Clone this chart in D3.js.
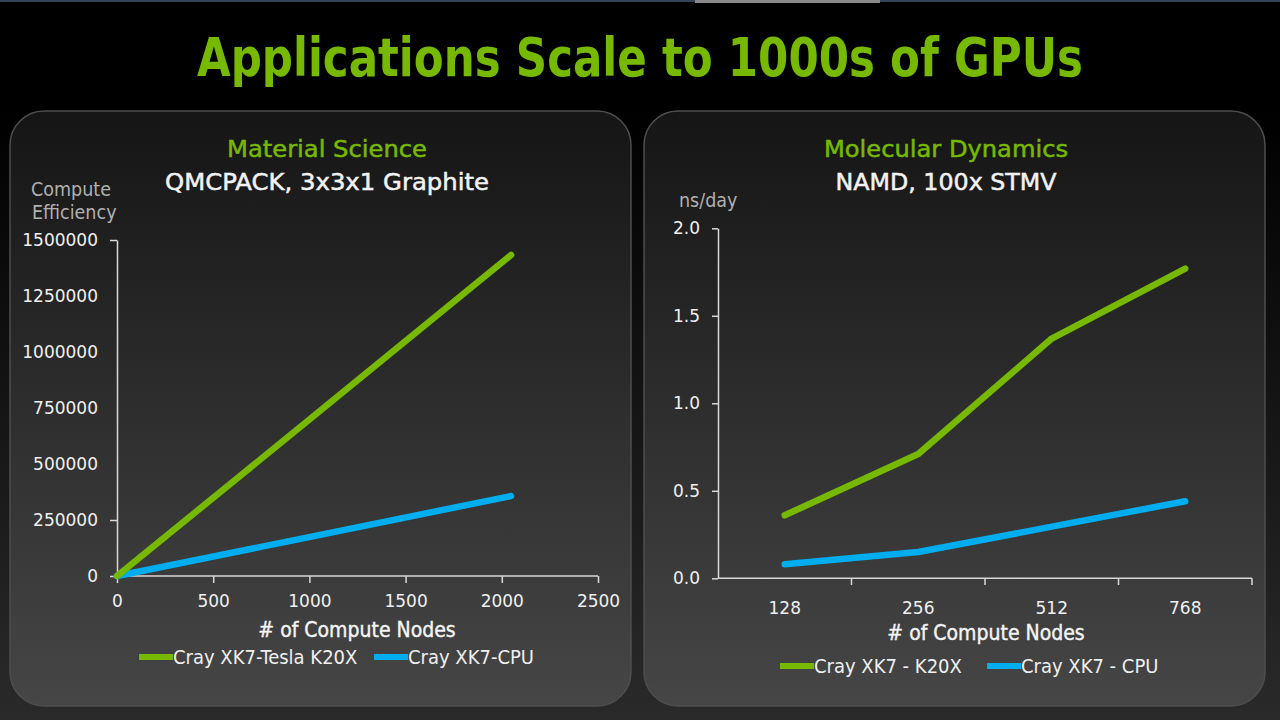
<!DOCTYPE html>
<html><head><meta charset="utf-8">
<script src="https://cdn.jsdelivr.net/npm/d3@7"></script>
<style>
html,body{margin:0;padding:0;background:#000;overflow:hidden}
svg{display:block}
text{font-family:"DejaVu Sans Condensed","Liberation Sans Narrow","DejaVu Sans",sans-serif}
.wide{font-family:"DejaVu Sans",sans-serif}
</style></head>
<body><svg id="c" width="1280" height="720"></svg>
<script>
// ---- Data ----
const title = "Applications Scale to 1000s of GPUs";

// Left chart: Material Science / QMCPACK
const leftNodes = [0, 1024, 2048];
const leftGPU = [0, 715000, 1433000];
const leftCPU = [0, 178000, 357000];
const leftYTicks = [0, 250000, 500000, 750000, 1000000, 1250000, 1500000];
const leftXTicks = [0, 500, 1000, 1500, 2000, 2500];
const leftSeriesNames = ["Cray XK7-Tesla K20X", "Cray XK7-CPU"];

// Right chart: Molecular Dynamics / NAMD
const rightNodes = ["128", "256", "512", "768"];
const rightGPU = [0.36, 0.71, 1.37, 1.77];
const rightCPU = [0.08, 0.15, 0.295, 0.44];
const rightYTicks = [0.0, 0.5, 1.0, 1.5, 2.0];
const rightSeriesNames = ["Cray XK7 - K20X", "Cray XK7 - CPU"];

const GREEN = "#76b900", BLUE = "#00aeef";

const svg = d3.select("#c");
const defs = svg.append("defs");
const bg = defs.append("linearGradient").attr("id","bg").attr("x1",0).attr("y1",0).attr("x2",0).attr("y2",1);
bg.append("stop").attr("offset","0%").attr("stop-color","#000");
bg.append("stop").attr("offset","15%").attr("stop-color","#000");
bg.append("stop").attr("offset","100%").attr("stop-color","#2a2a2a");
const pg = defs.append("linearGradient").attr("id","pg").attr("x1",0).attr("y1",0).attr("x2",0).attr("y2",1);
pg.append("stop").attr("offset","0%").attr("stop-color","#151515");
pg.append("stop").attr("offset","100%").attr("stop-color","#464646");

svg.append("rect").attr("width",1280).attr("height",720).attr("fill","url(#bg)");
// top stripe
svg.append("rect").attr("x",0).attr("y",0).attr("width",1280).attr("height",2).attr("fill","#34435a");
svg.append("rect").attr("x",695).attr("y",0).attr("width",185).attr("height",3).attr("fill","#8a8a8a");

svg.append("text").attr("x",640).attr("y",76).attr("text-anchor","middle")
  .attr("fill","#76b900").attr("font-size",54).attr("font-weight","bold")
  .attr("textLength",886).attr("lengthAdjust","spacingAndGlyphs").text(title);

function panel(x0, x1){
  svg.append("rect").attr("x",x0).attr("y",111).attr("width",x1-x0).attr("height",595)
    .attr("rx",34).attr("ry",34).attr("fill","url(#pg)").attr("stroke","#4e4e4e").attr("stroke-width",1.5);
}
panel(10, 631);
panel(644, 1265);

function headers(cx, g, gw, w, ww){
  svg.append("text").attr("class","wide").attr("x",cx).attr("y",157).attr("text-anchor","middle").attr("fill","#76b900").attr("font-size",23)
    .attr("stroke","#76b900").attr("stroke-width",0.5)
    .attr("textLength",gw).attr("lengthAdjust","spacingAndGlyphs").text(g);
  svg.append("text").attr("class","wide").attr("x",cx).attr("y",190).attr("text-anchor","middle").attr("fill","#f2f2f2").attr("font-size",23)
    .attr("stroke","#f2f2f2").attr("stroke-width",0.5)
    .attr("textLength",ww).attr("lengthAdjust","spacingAndGlyphs").text(w);
}
headers(327, "Material Science", 200, "QMCPACK, 3x3x1 Graphite", 324);
headers(946, "Molecular Dynamics", 244, "NAMD, 100x STMV", 221);

function styleAxis(g){
  g.select(".domain").attr("stroke","#d8d8d8").attr("stroke-width",1.5);
  g.selectAll(".tick line").attr("stroke","#d8d8d8").attr("stroke-width",1.5);
  g.selectAll(".tick text").attr("class","wide").attr("fill","#f0f0f0").attr("font-size",17);
}

// ---- Left chart ----
const lx = d3.scaleLinear().domain([0,2500]).range([117,598]);
const ly = d3.scaleLinear().domain([0,1500000]).range([576,240]);
const gly = svg.append("g").attr("transform","translate(117,0)")
  .call(d3.axisLeft(ly).tickValues(leftYTicks).tickFormat(d3.format("d")).tickSize(7).tickPadding(12).tickSizeOuter(0));
styleAxis(gly);
gly.selectAll(".tick line").attr("display", d => (d===0||d===250000||d===1500000) ? null : "none");
const glx = svg.append("g").attr("transform","translate(0,576)")
  .call(d3.axisBottom(lx).tickValues(leftXTicks).tickFormat(d3.format("d")).tickSize(7).tickPadding(12).tickSizeOuter(0));
styleAxis(glx);
glx.select(".domain").attr("d","M117,0H598");

svg.append("text").attr("x",31).attr("y",196).attr("fill","#b0b0b0").attr("font-size",19.5).text("Compute");
svg.append("text").attr("x",32).attr("y",219).attr("fill","#b0b0b0").attr("font-size",19.5).text("Efficiency");
svg.append("text").attr("x",357).attr("y",637).attr("text-anchor","middle").attr("fill","#f4f4f4").attr("font-size",21)
  .attr("stroke","#f4f4f4").attr("stroke-width",0.4).text("# of Compute Nodes");

const lline = d3.line().x((d,i)=>lx(leftNodes[i])).y(d=>ly(d));
svg.append("path").datum(leftCPU).attr("d",lline).attr("fill","none").attr("stroke",BLUE).attr("stroke-width",6.5).attr("stroke-linecap","round");
svg.append("path").datum(leftGPU).attr("d",lline).attr("fill","none").attr("stroke",GREEN).attr("stroke-width",6.5).attr("stroke-linecap","round");

function legendItem(x, y, color, label){
  svg.append("line").attr("x1",x).attr("x2",x+34).attr("y1",y).attr("y2",y).attr("stroke",color).attr("stroke-width",6);
  svg.append("text").attr("x",x+34).attr("y",y+7).attr("fill","#f0f0f0").attr("font-size",20).text(label);
}
legendItem(139, 657, GREEN, leftSeriesNames[0]);
legendItem(374, 657, BLUE, leftSeriesNames[1]);

// ---- Right chart ----
const rx = d3.scaleBand().domain(rightNodes).range([718,1252]);
const ry = d3.scaleLinear().domain([0,2]).range([578.3,228.3]);
const gry = svg.append("g").attr("transform","translate(718,0)")
  .call(d3.axisLeft(ry).tickValues(rightYTicks).tickFormat(d3.format(".1f")).tickSize(6).tickPadding(12).tickSizeOuter(0));
styleAxis(gry);
const grx = svg.append("g").attr("transform","translate(0,578.3)")
  .call(d3.axisBottom(rx).tickSize(0).tickPadding(24));
styleAxis(grx);
grx.select(".domain").attr("d","M718,0H1252");
// boundary ticks between bands
const bounds = rightNodes.map(d => rx(d) + rx.bandwidth());
svg.append("g").selectAll("line").data(bounds).join("line")
  .attr("x1",d=>d).attr("x2",d=>d).attr("y1",578.3).attr("y2",585)
  .attr("stroke","#d8d8d8").attr("stroke-width",1.5);

svg.append("text").attr("x",679).attr("y",207).attr("fill","#b0b0b0").attr("font-size",19.5).text("ns/day");
svg.append("text").attr("x",986).attr("y",640).attr("text-anchor","middle").attr("fill","#f4f4f4").attr("font-size",21)
  .attr("stroke","#f4f4f4").attr("stroke-width",0.4).text("# of Compute Nodes");

const rline = d3.line().x((d,i)=>rx(rightNodes[i])+rx.bandwidth()/2).y(d=>ry(d));
svg.append("path").datum(rightCPU).attr("d",rline).attr("fill","none").attr("stroke",BLUE).attr("stroke-width",6.5).attr("stroke-linecap","round").attr("stroke-linejoin","round");
svg.append("path").datum(rightGPU).attr("d",rline).attr("fill","none").attr("stroke",GREEN).attr("stroke-width",6.5).attr("stroke-linecap","round").attr("stroke-linejoin","round");

legendItem(780, 666, GREEN, rightSeriesNames[0]);
legendItem(987, 666, BLUE, rightSeriesNames[1]);
</script></body></html>
